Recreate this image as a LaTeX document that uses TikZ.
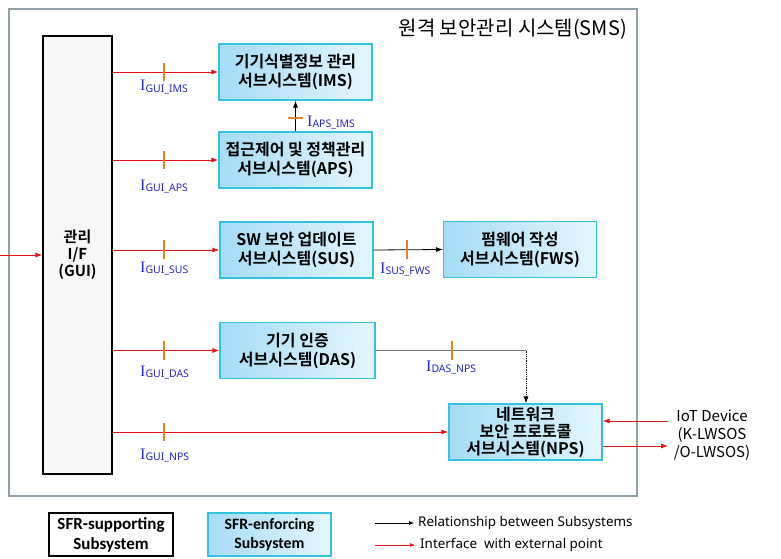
\documentclass[tikz,border=0pt]{standalone}
\usepackage{fontspec}
\setmainfont{Noto Sans CJK KR}[BoldFont={Noto Sans CJK KR Bold}]
\newfontfamily\legfont{Carlito}
\newfontfamily\notosans{Noto Sans}
\newfontfamily\ifont{Liberation Serif}
\usetikzlibrary{arrows.meta}
\definecolor{outergray}{RGB}{143,160,168}
\definecolor{boxcyan}{RGB}{50,195,225}
\definecolor{fillA}{RGB}{165,220,246}
\definecolor{fillB}{RGB}{228,246,253}
\definecolor{tickor}{RGB}{225,130,40}
\definecolor{lblue}{RGB}{40,40,200}
\definecolor{arrred}{RGB}{230,20,20}
\definecolor{guifill}{RGB}{247,247,247}
\newcommand{\ilab}[1]{{\ifont\fontsize{16}{16}\selectfont I}\raisebox{-1.5pt}{\notosans\fontsize{10.5}{10.5}\selectfont #1}}
\begin{document}
\begin{tikzpicture}[x=1pt,y=-1pt,
  subsys/.style={draw=boxcyan, line width=1.2pt, left color=fillA, right color=fillB,
    minimum width=153pt, minimum height=56pt, align=center, inner sep=0pt,
    font=\fontsize{16}{19}\selectfont\bfseries},
  iface/.style={-{Latex[length=7pt,width=5pt]}, arrred, line width=0.8pt},
  relarr/.style={-{Latex[length=7pt,width=5pt]}, black, line width=0.8pt},
  tickmark/.style={tickor, line width=2pt},
  ilabel/.style={anchor=base west, text=lblue, inner sep=0pt},
  iottext/.style={font=\fontsize{15}{18}\selectfont, align=center, inner sep=0pt}
]
\useasboundingbox (0,0) rectangle (781,559);
% outer system box
\node[draw=outergray, line width=2pt, minimum width=628pt, minimum height=487pt, inner sep=0pt] (sms) at (323,252.5) {};
\node[anchor=east, inner sep=0pt, font=\fontsize{20}{20}\selectfont] (title) at (627,29) {원격 보안관리 시스템(SMS)};
% GUI
\node[draw=black, line width=1.2pt, fill=guifill, minimum width=69pt, minimum height=438pt, inner sep=0pt,
  align=center, font=\fontsize{15}{17}\selectfont\bfseries] (gui) at (77.5,255) {관리\\I/F\\(GUI)};
% subsystems
\node[subsys] (ims) at (295.5,72) {기기식별정보 관리\\서브시스템(IMS)};
\node[subsys] (aps) at (295.5,160) {접근제어 및 정책관리\\서브시스템(APS)};
\node[subsys] (sus) at (296.5,250) {SW 보안 업데이트\\서브시스템(SUS)};
\node[subsys] (fws) at (520,249.5) {펌웨어 작성\\서브시스템(FWS)};
\node[subsys, minimum width=155pt] (das) at (297.5,350.5) {기기 인증\\서브시스템(DAS)};
\node[subsys, font=\fontsize{16}{17}\selectfont\bfseries] (nps) at (525.5,432) {네트워크\\보안 프로토콜\\서브시스템(NPS)};
% IoT device
\node[iottext] (iot) at (712,435) {IoT Device\\(K-LWSOS\\/O-LWSOS)};
\coordinate (iotin) at (668,421);
\coordinate (iotout) at (668,446);
\coordinate (leftin) at (0,255);
% interfaces from GUI
\draw[iface] (gui.east |- ims.west) -- (ims.west);
\draw[iface] (gui.east |- aps.west) -- (aps.west);
\draw[iface] (gui.east |- sus.west) -- (sus.west);
\draw[iface] (gui.east |- das.west) -- (das.west);
\draw[iface] (gui.east |- nps.west) -- (nps.west);
\draw[iface] (leftin) -- (gui.west |- leftin);
\draw[iface] (iotin) -- (nps.east |- iotin);
\draw[iface] (nps.east |- iotout) -- (iotout);
% relations
\draw[relarr] (aps.north) -- (ims.south);
\draw[relarr] (sus.east) -- (fws.west);
\draw[black!55, line width=1.2pt] (das.east) -- (526,350.5) coordinate (dascorner);
\draw[relarr, densely dotted] (dascorner) -- (dascorner |- nps.north);
% ticks
\draw[tickmark] (164,63) -- (164,81);
\draw[tickmark] (164,151) -- (164,169);
\draw[tickmark] (164,240) -- (164,259);
\draw[tickmark] (164,341) -- (164,360);
\draw[tickmark] (164,423) -- (164,441);
\draw[tickmark] (288,118) -- (303,118);
\draw[tickmark] (407,240) -- (407,259);
\draw[tickmark] (452,341) -- (452,360);
% labels
\node[ilabel] (lgi) at (140,91) {\ilab{GUI\_IMS}};
\node[ilabel] (lga) at (140,190) {\ilab{GUI\_APS}};
\node[ilabel] (lgs) at (140,272) {\ilab{GUI\_SUS}};
\node[ilabel] (lgd) at (140,376) {\ilab{GUI\_DAS}};
\node[ilabel] (lgn) at (140,459) {\ilab{GUI\_NPS}};
\node[ilabel] (lai) at (307,126) {\ilab{APS\_IMS}};
\node[ilabel] (lsf) at (380,273) {\ilab{SUS\_FWS}};
\node[ilabel] (ldn) at (426,371) {\ilab{DAS\_NPS}};
% legend
\node[draw=black, line width=1.2pt, minimum width=124pt, minimum height=43pt, inner sep=0pt, align=center,
  font=\legfont\fontsize{17}{20}\selectfont\bfseries] (leg1) at (111,534.5) {SFR-supporting\\Subsystem};
\node[subsys, minimum width=123pt, minimum height=43pt, font=\legfont\fontsize{15.8}{19}\selectfont\bfseries] (leg2) at (269.5,534.5) {SFR-enforcing\\Subsystem};
\coordinate (la1) at (375,523);
\coordinate (lb1) at (375,545);
\node[anchor=west, inner sep=0pt, font=\notosans\fontsize{13.4}{14}\selectfont] (legt1) at (418,523) {Relationship between Subsystems};
\node[anchor=west, inner sep=0pt, font=\notosans\fontsize{13.4}{14}\selectfont] (legt2) at (420,545) {Interface\ \ with external point};
\draw[relarr, line width=0.6pt, -{Latex[length=5pt,width=4pt]}] (la1) -- ([xshift=-4pt]legt1.west);
\draw[iface, line width=0.6pt, -{Latex[length=5pt,width=4pt]}] (lb1) -- ([xshift=-5pt]legt2.west);
\end{tikzpicture}
\end{document}
